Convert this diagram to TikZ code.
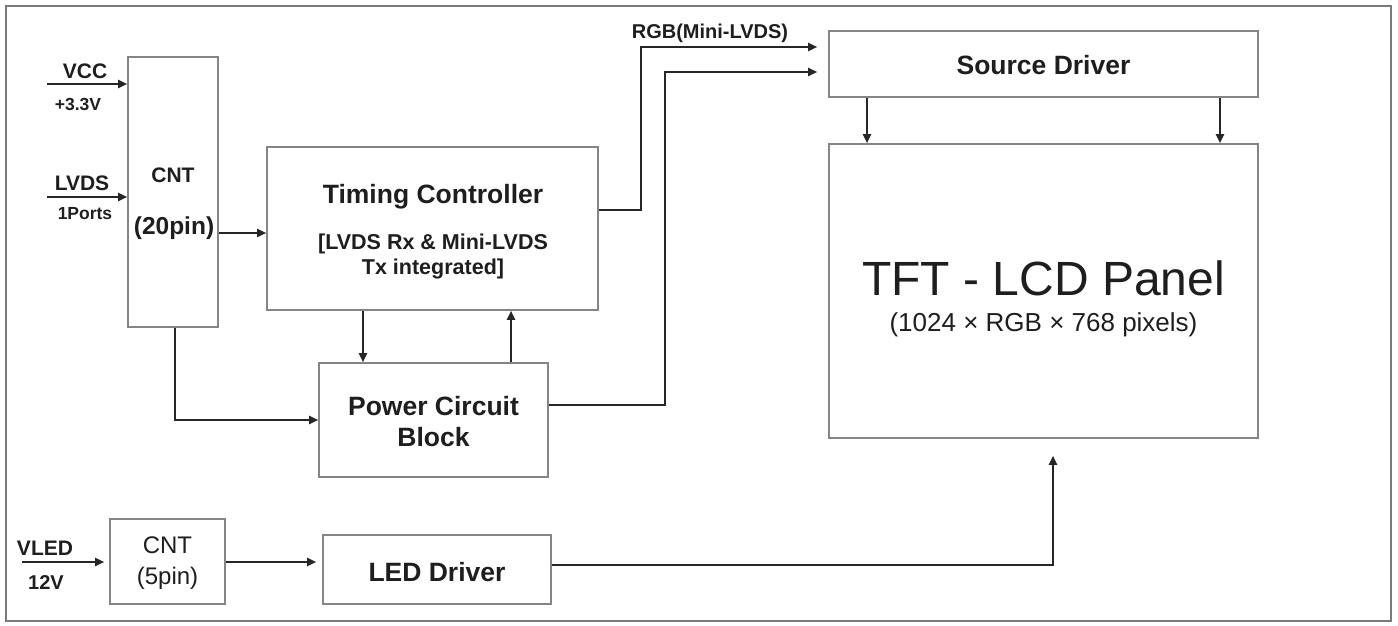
\documentclass[tikz,border=0pt]{standalone}
\usepackage{fontspec}
\setmainfont{Liberation Sans}
\usetikzlibrary{arrows.meta,calc}
\definecolor{boxgray}{HTML}{858585}
\definecolor{framegray}{HTML}{7A7A7A}
\definecolor{linedark}{HTML}{262626}
\definecolor{txt}{HTML}{1E1E1E}
\begin{document}
\begin{tikzpicture}[x=1pt,y=-1pt,
  blk/.style={draw=boxgray,line width=1.6pt,rectangle,inner sep=0pt,fill=white},
  conn/.style={draw=linedark,line width=1.9pt,-{Triangle[length=9pt,width=8pt]}},
  lbl/.style={inner sep=0pt,text=txt,font=\bfseries\fontsize{21}{24}\selectfont},
  small/.style={inner sep=0pt,text=txt,font=\bfseries\fontsize{17.5}{20}\selectfont},
  big/.style={inner sep=0pt,text=txt,font=\bfseries\fontsize{26.5}{30}\selectfont},
  reg/.style={inner sep=0pt,text=txt,font=\fontsize{24}{28}\selectfont}]
\useasboundingbox (0,0) rectangle (1398,626);
\fill[white] (0,0) rectangle (1398,626);
\draw[framegray,line width=2.2pt] (6,6) rectangle (1391,621);

% boxes
\node[blk,minimum width=90pt,minimum height=270pt] (cnt20) at (173,192) {};
\node[blk,minimum width=331pt,minimum height=163pt] (tc) at (432.5,228.5) {};
\node[blk,minimum width=229pt,minimum height=114pt] (pcb) at (433.5,420) {};
\node[blk,minimum width=429pt,minimum height=66pt] (sd) at (1043.5,64) {};
\node[blk,minimum width=429pt,minimum height=294pt] (tft) at (1043.5,291) {};
\node[blk,minimum width=228pt,minimum height=69pt] (led) at (437,569.5) {};
\node[blk,minimum width=115pt,minimum height=85pt] (cnt5) at (167.5,561.5) {};

% texts in boxes
\node[lbl] (cnt20a) at (173,175) {CNT};
\node[lbl,font=\bfseries\fontsize{24.5}{28}\selectfont] (cnt20b) at (174,228) {(20pin)};
\node[big] (tca) at (433,197) {Timing Controller};
\node[lbl,align=center,font=\bfseries\fontsize{21.5}{25}\selectfont] (tcb) at (433,256) {[LVDS Rx \& Mini-LVDS\\Tx integrated]};
\node[big,align=center,font=\bfseries\fontsize{26.5}{31}\selectfont] (pcbt) at (433.5,422) {Power Circuit\\Block};
\node[big] (sdt) at (1043.5,65) {Source Driver};
\node[inner sep=0pt,text=txt,font=\fontsize{48}{56}\selectfont] (tfta) at (1043.5,278) {TFT - LCD Panel};
\node[inner sep=0pt,text=txt,font=\fontsize{26}{30}\selectfont] (tftb) at (1043.5,325) {(1024 × RGB × 768 pixels)};
\node[big] (ledt) at (437,572) {LED Driver};
\node[reg] (cnt5a) at (167.5,545) {CNT};
\node[reg] (cnt5b) at (167.5,578) {(5pin)};

% outside labels
\node[lbl] (vcc) at (85,71) {VCC};
\node[small] (v33) at (78,104) {+3.3V};
\node[lbl] (lvds) at (82,183) {LVDS};
\node[small] (ports) at (85,214) {1Ports};
\node[lbl,font=\bfseries\fontsize{20}{24}\selectfont] (rgb) at (710,33) {RGB(Mini-LVDS)};
\node[lbl] (vled) at (45,548) {VLED};
\node[lbl,font=\bfseries\fontsize{20}{24}\selectfont] (v12) at (46,583) {12V};

% connectors
\coordinate (vccin) at (47,84);
\coordinate (lvdsin) at (47,197);
\coordinate (vledin) at (22,562);
\draw[conn] (vccin) -- (vccin -| cnt20.west);
\draw[conn] (lvdsin) -- (lvdsin -| cnt20.west);
\draw[conn] (cnt20.east |- 0,233) -- (tc.west |- 0,233);
\draw[conn] (tc.south -| 363,0) -- (pcb.north -| 363,0);
\draw[conn] (pcb.north -| 511,0) -- (tc.south -| 511,0);
\draw[conn] (cnt20.south -| 175,0) |- (pcb.west |- 0,420);
\draw[conn,shorten >=11pt] (tc.east |- 0,210) -| (641,47) -- (sd.west |- 0,47);
\draw[conn,shorten >=11pt] (pcb.east |- 0,405) -| (665,72) -- (sd.west |- 0,72);
\draw[conn] (sd.south -| 867,0) -- (tft.north -| 867,0);
\draw[conn] (sd.south -| 1220,0) -- (tft.north -| 1220,0);
\draw[conn,shorten >=17pt] (led.east |- 0,565) -| (tft.south -| 1053,0);
\draw[conn,shorten >=5pt] (vledin) -- (vledin -| cnt5.west);
\draw[conn,shorten >=6pt] (cnt5.east |- 0,562) -- (led.west |- 0,562);
\end{tikzpicture}
\end{document}
